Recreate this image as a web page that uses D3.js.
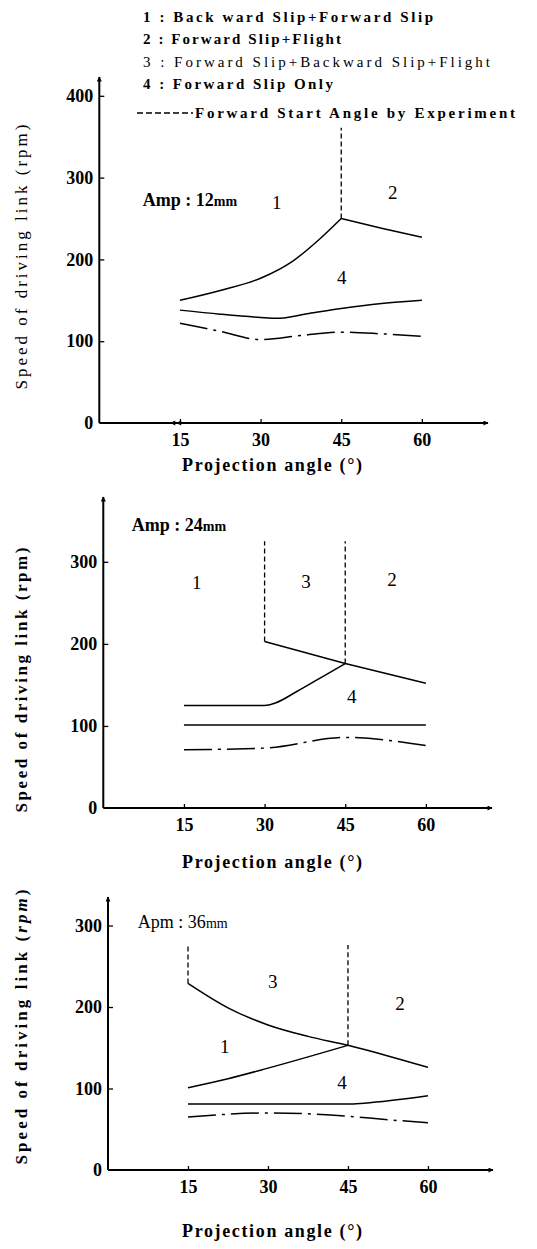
<!DOCTYPE html>
<html lang="en">
<head>
    <meta charset="UTF-8">
    <title>Speed of driving link vs projection angle</title>
    <script src="https://d3js.org/d3.v7.min.js"></script>
    <style>
        body {
            margin: 0;
            background: #fff;
        }
        svg, svg text {
            display: block;
            font-family: "Liberation Serif", "Times New Roman", serif;
        }
        .tick line {
            stroke: #000;
            stroke-width: 1.3px;
        }
        .tick text {
            font-size: 18px;
            font-weight: bold;
            fill: #000;
        }
        .curve {
            fill: none;
            stroke: #000;
            stroke-width: 1.5px;
        }
    </style>
</head>
<body>
<div id="chart"></div>
<script>
    // legend texts
    const legendItems = [
        "1 : Back ward Slip+Forward Slip",
        "2 : Forward Slip+Flight",
        "3 : Forward Slip+Backward Slip+Flight",
        "4 : Forward Slip Only"
    ];
    const legendDashText = "Forward Start Angle by Experiment";

    const xTicks = [15, 30, 45, 60];

    // Amp 12mm
    const amp12UpperLeft = [[15, 150], [22.5, 162], [30, 177], [36, 198], [41, 225], [45, 250]];
    const amp12UpperRight = [[45, 250], [52.5, 238], [60, 227]];
    const amp12Middle = [[15, 138], [22.5, 133], [30, 129], [33, 128], [39, 134], [45, 140], [52.5, 146], [60, 150]];
    const amp12DashDot = [[15, 122], [22.5, 112], [30, 102], [37.5, 107], [45, 111], [52.5, 109], [60, 106]];
    const amp12Start = [[45, 250, 361]];
    const amp12YTicks = [0, 100, 200, 300, 400];

    // Amp 24mm
    const amp24Upper = [[30, 203], [45, 176], [60, 152]];
    const amp24Curve = [[15, 125], [30, 125], [32, 128], [36, 142], [40, 157], [45, 176]];
    const amp24Middle = [[15, 101], [30, 101], [45, 101], [60, 101]];
    const amp24DashDot = [[15, 71], [30, 73], [45, 86], [60, 76]];
    const amp24Start = [[30, 203, 325], [45, 176, 325]];
    const amp24YTicks = [0, 100, 200, 300];

    // Apm 36mm
    const amp36Upper = [[15, 229], [22.5, 199], [30, 178], [37.5, 164], [45, 153], [52.5, 140], [60, 126]];
    const amp36Rising = [[15, 101], [22.5, 112], [30, 125], [45, 153]];
    const amp36Middle = [[15, 81], [30, 81], [45, 81], [48, 82], [60, 91]];
    const amp36DashDot = [[15, 65], [30, 70], [45, 66], [52, 62], [60, 58]];
    const amp36Start = [[15, 229, 276], [45, 153, 276]];
    const amp36YTicks = [0, 100, 200, 300];

    const width = 537, height = 1249;
    const serif = '"Liberation Serif", "Times New Roman", serif';

    const svg = d3.select("#chart").append("svg")
        .attr("width", width)
        .attr("height", height)
        .attr("font-family", serif);

    const defs = svg.append("defs");
    defs.append("marker")
        .attr("id", "arrow")
        .attr("viewBox", "0 0 10 10")
        .attr("refX", 9).attr("refY", 5)
        .attr("markerWidth", 12).attr("markerHeight", 5)
        .attr("markerUnits", "userSpaceOnUse")
        .attr("orient", "auto")
        .append("path")
        .attr("d", "M0,0L10,5L0,10z")
        .attr("fill", "#000");

    // legend
    const legendWidths = [290, 198, 347, 190];
    const legendY = [22, 44, 67, 89];
    legendItems.forEach((t, i) => {
        svg.append("text")
            .attr("x", 143).attr("y", legendY[i])
            .attr("textLength", legendWidths[i])
            .attr("lengthAdjust", "spacing")
            .attr("font-family", serif)
            .style("font-size", "15px")
            .style("font-weight", i === 2 ? "normal" : "bold")
            .text(t);
    });
    svg.append("line")
        .attr("x1", 137).attr("x2", 193)
        .attr("y1", 113).attr("y2", 113)
        .attr("stroke", "#000").attr("stroke-width", 1.6)
        .attr("stroke-dasharray", "6,3");
    svg.append("text")
        .attr("x", 195).attr("y", 118)
        .attr("textLength", 320)
        .attr("lengthAdjust", "spacing")
        .attr("font-family", serif)
        .style("font-size", "15px")
        .style("font-weight", "bold")
        .text(legendDashText);

    const panels = [
        {
            xRange: [99.3, 488], xMax: 72.3, yRange: [423, 77], yMax: 423, yTicks: amp12YTicks,
            smooth: [amp12UpperLeft, amp12Middle], straight: [amp12UpperRight], dashDot: amp12DashDot, start: amp12Start,
            ampText: "Amp : 12", ampBold: true, ampPos: [8.1, 273],
            regions: [["1", 33, 269], ["2", 54.6, 281], ["4", 45.1, 177]],
            titleY: 471, yTitleCenter: 257, yTitleItalic: false, breakMark: true
        },
        {
            xRange: [103.3, 492], xMax: 72.3, yRange: [808, 497], yMax: 379, yTicks: amp24YTicks,
            smooth: [amp24Curve], straight: [amp24Upper, amp24Middle], dashDot: amp24DashDot, start: amp24Start,
            ampText: "Amp : 24", ampBold: true, ampPos: [5.3, 345],
            regions: [["1", 17.4, 274], ["3", 37.7, 276], ["2", 53.7, 278], ["4", 46.2, 135]],
            titleY: 868, yTitleCenter: 680, yTitleItalic: false, breakMark: false
        },
        {
            xRange: [108, 493], xMax: 72.2, yRange: [1170, 897], yMax: 335, yTicks: amp36YTicks,
            smooth: [amp36Upper, amp36Rising, amp36Middle], straight: [], dashDot: amp36DashDot, start: amp36Start,
            ampText: "Apm : 36", ampBold: false, ampPos: [5.6, 304],
            regions: [["3", 30.9, 231], ["2", 54.75, 204], ["1", 21.9, 151], ["4", 43.9, 107]],
            titleY: 1237, yTitleCenter: 1027, yTitleItalic: true, breakMark: false
        }
    ];

    panels.forEach((p, idx) => {
        const x = d3.scaleLinear().domain([0, p.xMax]).range(p.xRange);
        const y = d3.scaleLinear().domain([0, p.yMax]).range(p.yRange);
        const g = svg.append("g");

        // axes lines with arrows
        g.append("line")
            .attr("x1", x(0)).attr("x2", x(0))
            .attr("y1", y(0)).attr("y2", y(p.yMax))
            .attr("stroke", "#000").attr("stroke-width", 2)
            .attr("marker-end", "url(#arrow)");
        g.append("line")
            .attr("x1", x(0)).attr("x2", x(p.xMax))
            .attr("y1", y(0)).attr("y2", y(0))
            .attr("stroke", "#000").attr("stroke-width", 2)
            .attr("marker-end", "url(#arrow)");

        const yAxis = d3.axisLeft(y).tickValues(p.yTicks).tickSizeInner(-5).tickSizeOuter(0).tickPadding(6);
        g.append("g").attr("transform", `translate(${x(0)},0)`).call(yAxis)
            .attr("font-family", serif)
            .call(a => a.select(".domain").remove())
            .call(a => a.selectAll(".tick").filter(d => d === 0).select("line").remove());

        const xAxis = d3.axisBottom(x).tickValues(xTicks).tickSizeInner(-4).tickSizeOuter(0).tickPadding(10);
        g.append("g").attr("transform", `translate(0,${y(0)})`).call(xAxis)
            .attr("font-family", serif)
            .call(a => a.select(".domain").remove());

        if (p.breakMark) {
            g.append("path")
                .attr("d", `M${x(13.2)},${y(0)}l5,-2.5v5z M${x(14.3)},${y(0)}l5,-2.5v5z`)
                .attr("fill", "#000");
        }

        const smoothLine = d3.line().x(d => x(d[0])).y(d => y(d[1])).curve(d3.curveMonotoneX);
        const straightLine = d3.line().x(d => x(d[0])).y(d => y(d[1]));

        p.smooth.forEach(s => g.append("path").attr("class", "curve").attr("d", smoothLine(s)));
        p.straight.forEach(s => g.append("path").attr("class", "curve").attr("d", straightLine(s)));

        g.append("path").attr("class", "curve")
            .attr("d", smoothLine(p.dashDot))
            .attr("stroke-dasharray", "28,6,3,6");

        p.start.forEach(s => {
            g.append("line")
                .attr("x1", x(s[0])).attr("x2", x(s[0]))
                .attr("y1", y(s[1])).attr("y2", y(s[2]))
                .attr("stroke", "#000").attr("stroke-width", 1.3)
                .attr("stroke-dasharray", "5,3");
        });

        const amp = g.append("text")
            .attr("x", x(p.ampPos[0])).attr("y", y(p.ampPos[1]) + 6)
            .attr("font-family", serif)
            .style("font-size", "18px")
            .style("font-weight", p.ampBold ? "bold" : "normal");
        amp.append("tspan").text(p.ampText);
        amp.append("tspan").style("font-size", "14px").text("mm");

        p.regions.forEach(r => {
            g.append("text")
                .attr("x", x(r[1])).attr("y", y(r[2]) + 6)
                .attr("text-anchor", "middle")
                .attr("font-family", serif)
                .style("font-size", "19px")
                .text(r[0]);
        });

        g.append("text")
            .attr("x", 272).attr("y", p.titleY)
            .attr("text-anchor", "middle")
            .attr("textLength", 180)
            .attr("lengthAdjust", "spacing")
            .attr("font-family", serif)
            .style("font-size", "18px")
            .style("font-weight", "bold")
            .text("Projection angle (°)");

        const yt = g.append("text")
            .attr("transform", `translate(27,${p.yTitleCenter}) rotate(-90)`)
            .attr("text-anchor", "middle")
            .attr("textLength", idx === 2 ? 275 : 265)
            .attr("lengthAdjust", "spacing")
            .attr("font-family", serif)
            .style("font-size", "17px")
            .style("font-weight", idx === 0 ? "normal" : "bold");
        yt.append("tspan").text("Speed of driving link (");
        yt.append("tspan").style("font-style", p.yTitleItalic ? "italic" : "normal").text("rpm");
        yt.append("tspan").text(")");
    });
</script>
</body>
</html>
